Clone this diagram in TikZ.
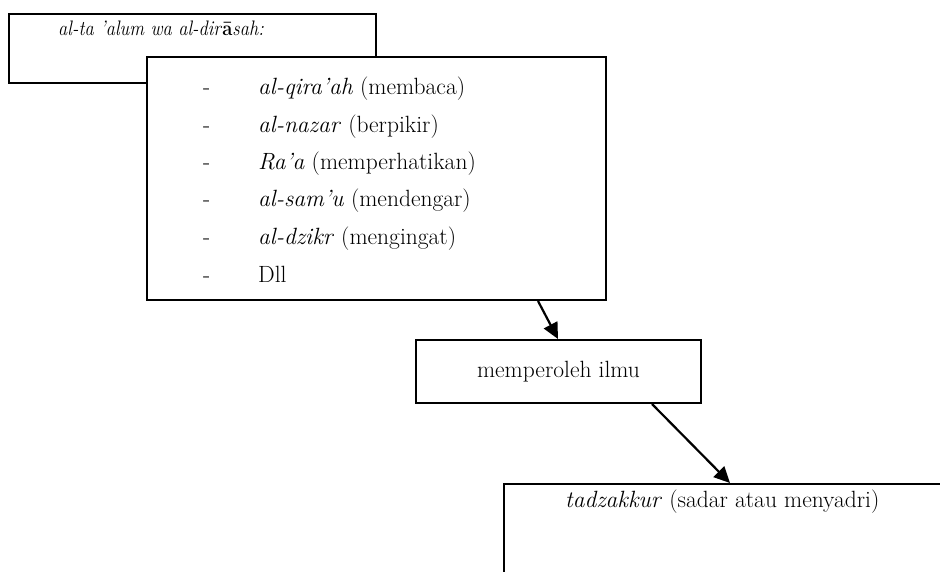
\documentclass[tikz,border=0pt]{standalone}
\usetikzlibrary{arrows.meta,calc}
\begin{document}
\begin{tikzpicture}[x=1pt,y=-1pt,
  font=\fontsize{23.5}{28}\selectfont,
  box/.style={draw,line width=2pt,fill=white,inner sep=0pt,anchor=north west},
  txt/.style={anchor=base west,inner sep=0pt},
  arr/.style={line width=2.2pt,-{Triangle[length=16pt,width=15pt]}}]
\clip (0,0) rectangle (940,572);
\fill[white] (0,0) rectangle (940,572);
% boxes
\node[box,minimum width=367pt,minimum height=69pt] (b1) at (8,13) {};
\node[txt] (t1) at (58,36) {\fontsize{21}{25}\selectfont\scalebox{0.88}[1]{\textit{al-ta ’alum wa al-dir}\textbf{ā}\textit{sah:}}};
\node[box,minimum width=459pt,minimum height=243pt] (b2) at (146,56) {};
\node[txt] (r1) at (203,95)  {\makebox[55pt][l]{-}\textit{al-qira’ah} (membaca)};
\node[txt] (r2) at (203,133) {\makebox[55pt][l]{-}\textit{al-nazar} (berpikir)};
\node[txt] (r3) at (203,170) {\makebox[55pt][l]{-}\textit{Ra’a} (memperhatikan)};
\node[txt] (r4) at (203,207) {\makebox[55pt][l]{-}\textit{al-sam’u} (mendengar)};
\node[txt] (r5) at (203,244) {\makebox[55pt][l]{-}\textit{al-dzikr} (mengingat)};
\node[txt] (r6) at (203,282) {\makebox[55pt][l]{-}Dll};
\node[box,minimum width=285pt,minimum height=63pt] (m) at (415,339) {memperoleh ilmu};
\node[box,minimum width=500pt,minimum height=150pt] (b3) at (503,483) {};
\node[txt] (t3) at (565,507) {\textit{tadzakkur} (sadar atau menyadri)};
% arrows
\draw[arr] ($(b2.south west)+(392,0)$) -- ($(m.north west)+(143,0)$);
\draw[arr] ($(m.south west)+(237,0)$) -- ($(b3.north west)+(227,0)$);
\end{tikzpicture}
\end{document}
